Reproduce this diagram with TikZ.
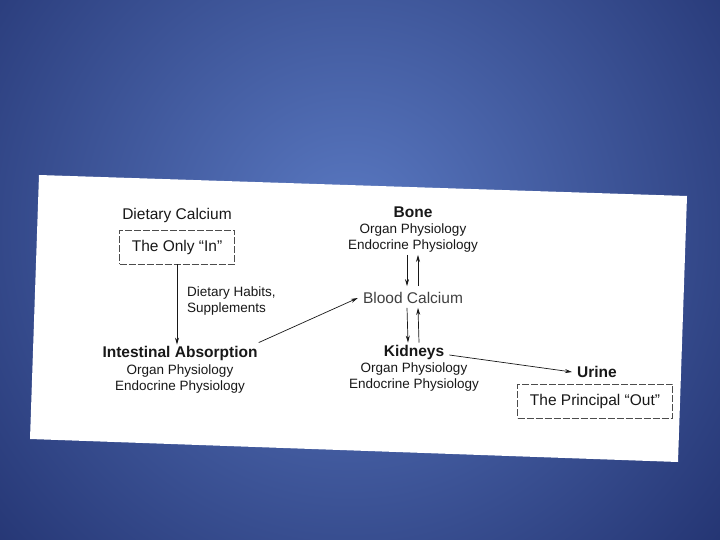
\documentclass[tikz,border=0pt]{standalone}
\usepackage{fontspec}
\setmainfont{Liberation Sans}
\usepackage{tikz}
\usetikzlibrary{arrows.meta}
\definecolor{slideDark}{RGB}{26,40,100}
\definecolor{slideLight}{RGB}{90,121,194}
\definecolor{inkText}{RGB}{24,24,24}

\begin{document}
\begin{tikzpicture}[x=1pt,y=-1pt,
    head/.style={font=\fontsize{15.5}{18}\selectfont\bfseries,text=inkText,inner sep=1pt},
    plain/.style={font=\fontsize{15.5}{18}\selectfont,text=inkText,inner sep=1pt},
    sub/.style={font=\fontsize{13.5}{16}\selectfont,text=inkText,align=center,inner sep=1pt},
    note/.style={font=\fontsize{13.5}{16}\selectfont,text=inkText,align=left,inner sep=1pt},
    dbox/.style={draw=black!70,line width=0.7pt,dash pattern=on 7pt off 2pt,
      minimum height=34pt,font=\fontsize{15.5}{18}\selectfont,text=inkText},
    arr/.style={-{Stealth[length=7pt,width=4pt]},line width=0.7pt,draw=inkText}
  ]
  % slide background
  \useasboundingbox (0,0) rectangle (720,540);
  \fill[slideDark] (0,0) rectangle (720,540);
  \begin{scope}
    \clip (0,0) rectangle (720,540);
    \shade[inner color=slideLight,outer color=slideDark] (350,230) circle (580);
  \end{scope}
  % the scanned page
  \fill[white] (39,175) -- (687,196) -- (678,462) -- (30,439) -- cycle;

  % intake side
  \node[plain] (diet) at (177,215) {Dietary Calcium};
  \node[dbox,minimum width=115pt] (onlyin) at (177,247) {The Only ``In''};
  \node[note,anchor=west] (habits) at (186,301) {Dietary Habits,\\Supplements};
  \node[head] (intest) at (180,353) {Intestinal Absorption};
  \node[sub,anchor=north] (intestsub) at (180,364) {Organ Physiology\\Endocrine Physiology};

  % bone and blood
  \node[head] (bone) at (413,212) {Bone};
  \node[sub,anchor=north] (bonesub) at (413,223) {Organ Physiology\\Endocrine Physiology};
  \node[plain,text=black!75] (blood) at (413,298) {Blood Calcium};

  % kidneys and urine
  \node[head] (kid) at (414,352) {Kidneys};
  \node[sub,anchor=north] (kidsub) at (414,362) {Organ Physiology\\Endocrine Physiology};
  \node[head] (urine) at (597,372) {Urine};
  \node[dbox,minimum width=155pt] (out) at (595,401) {The Principal ``Out''};

  \draw[arr] (onlyin.south) -- (intest.north -| onlyin.south);
  \draw[arr] ([yshift=2pt]intest.north east) -- ([xshift=-4pt]blood.west);
  \draw[arr] ([xshift=-6pt,yshift=-1pt]bonesub.south) -- ([xshift=-6pt,yshift=5pt]blood.north);
  \draw[arr] ([xshift=5pt,yshift=5pt]blood.north) -- ([xshift=5pt,yshift=-1pt]bonesub.south);
  \draw[arr] ([xshift=-6pt,yshift=-3pt]blood.south) -- ([xshift=-6pt,yshift=1pt]kid.north);
  \draw[arr] ([xshift=5pt,yshift=1pt]kid.north) -- ([xshift=5pt,yshift=-3pt]blood.south);
  \draw[arr] ([xshift=4pt,yshift=-3pt]kid.east) -- ([xshift=-4pt]urine.west);
\end{tikzpicture}
\end{document}
